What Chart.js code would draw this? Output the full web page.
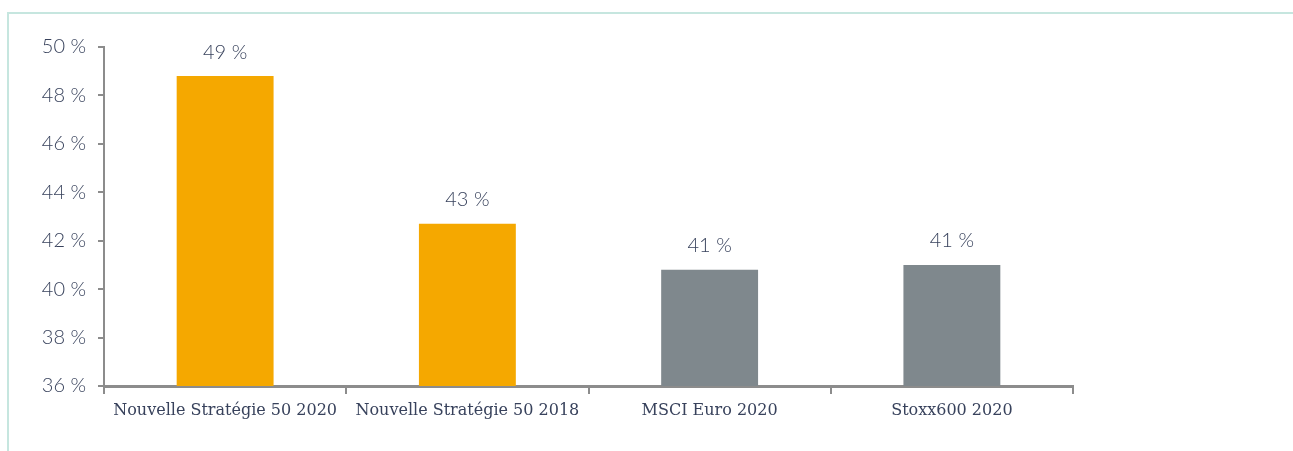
<!DOCTYPE html>
<html>
<head>
<meta charset="utf-8">
<script src="https://cdn.jsdelivr.net/npm/chart.js@4/dist/chart.umd.min.js"></script>
<style>
  html, body { margin: 0; padding: 0; background: #ffffff; }
  #wrap { position: relative; width: 1293px; height: 451px; overflow: hidden; }
  #frame { position: absolute; left: 7px; top: 12px; width: 1400px; height: 600px;
           border: 2px solid #c6e6df; box-sizing: border-box; }
  #c { position: absolute; left: 0; top: 0; }
</style>
</head>
<body>
<div id="wrap">
  <div id="frame"></div>
  <canvas id="c" width="1293" height="451"></canvas>
</div>
<script>
const categories = ["Nouvelle Stratégie 50 2020", "Nouvelle Stratégie 50 2018", "MSCI Euro 2020", "Stoxx600 2020"];
const values = [48.8, 42.7, 40.8, 41.0];
const barColors = ["#F5A800", "#F5A800", "#7F888D", "#7F888D"];
const yMin = 36, yMax = 50, yStep = 2;

const textColor = "#38425c";
const axisColor = "#8c8c8c";
const sansFont = "Lato, 'Open Sans', sans-serif";

const valueLabels = {
  id: "valueLabels",
  afterDatasetsDraw(chart) {
    const ctx = chart.ctx;
    const meta = chart.getDatasetMeta(0);
    ctx.save();
    ctx.font = "300 20px " + sansFont;
    ctx.fillStyle = textColor;
    ctx.textAlign = "center";
    ctx.textBaseline = "middle";
    meta.data.forEach((bar, i) => {
      ctx.fillText(Math.round(values[i]) + " %", bar.x, bar.y - 24);
    });
    ctx.restore();
  }
};

new Chart(document.getElementById("c"), {
  type: "bar",
  data: {
    labels: categories,
    datasets: [{
      data: values,
      backgroundColor: barColors,
      borderWidth: 0,
      barPercentage: 0.4,
      categoryPercentage: 1.0
    }]
  },
  options: {
    responsive: false,
    animation: false,
    events: [],
    layout: { padding: { left: 0, right: 220, top: 47, bottom: 0 } },
    plugins: { legend: { display: false }, tooltip: { enabled: false } },
    scales: {
      x: {
        grid: { display: true, drawOnChartArea: false, drawTicks: true, tickLength: 8, color: axisColor, lineWidth: 2, offset: true },
        border: { display: true, color: axisColor, width: 3 },
        ticks: { color: textColor, font: { family: "'DejaVu Serif', serif", size: 16 }, padding: 7, maxRotation: 0, autoSkip: false },
        afterFit(scale) { scale.height = 65; }
      },
      y: {
        min: yMin, max: yMax,
        grid: { display: true, drawOnChartArea: false, drawTicks: true, tickLength: 6, color: axisColor, lineWidth: 2 },
        border: { display: true, color: axisColor, width: 2 },
        ticks: { stepSize: yStep, color: textColor, font: { family: sansFont, size: 20, weight: 300 }, padding: 12,
                 callback: v => v + " %" },
        afterFit(scale) { scale.width = 104; }
      }
    }
  },
  plugins: [valueLabels]
});
</script>
</body>
</html>
